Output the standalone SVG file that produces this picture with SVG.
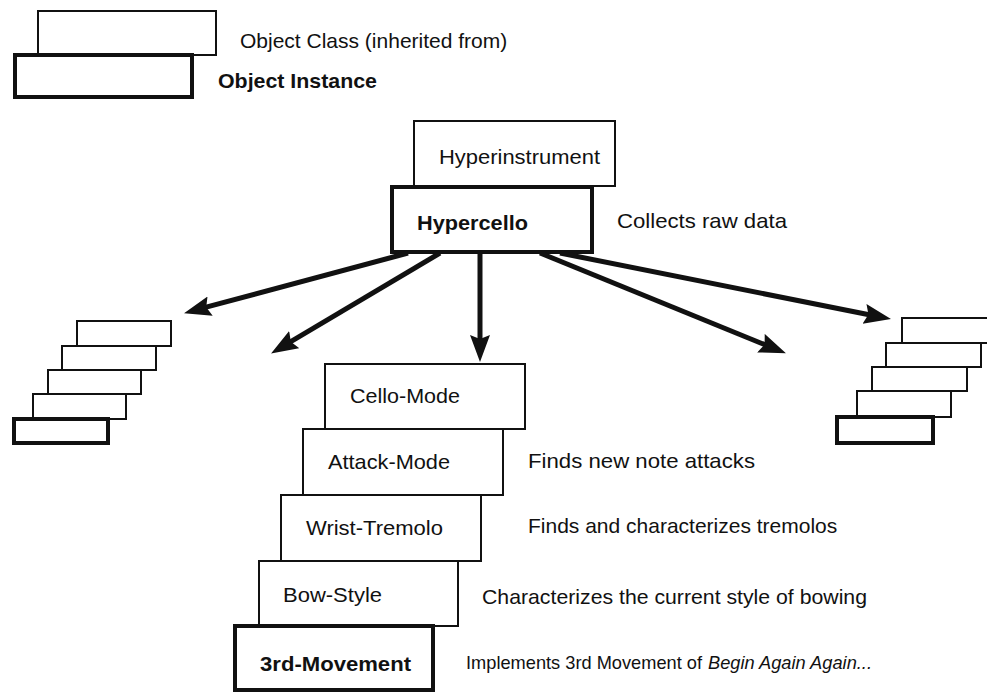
<svg xmlns="http://www.w3.org/2000/svg" width="987" height="692" viewBox="0 0 987 692">
<style>
  text { font-family: "Liberation Sans", Arial, Helvetica, sans-serif; font-size: 21px; fill: #111; }
  .b { font-weight: bold; }
  .s { font-size: 19px; }
  .i { font-style: italic; }
  .cls { fill: #fff; stroke: #111; stroke-width: 2; }
  .ins { fill: #fff; stroke: #111; stroke-width: 4; }
  .arr { stroke: #111; stroke-width: 5; fill: none; marker-end: url(#ah); }
</style>
<defs>
  <marker id="ah" markerUnits="userSpaceOnUse" markerWidth="30" markerHeight="22" refX="6" refY="10" orient="auto">
    <path d="M0,0 L27,10 L0,20 L4,10 z" fill="#111"/>
  </marker>
</defs>
<rect width="987" height="692" fill="#fff"/>

<g id="legend">
  <rect class="cls" x="38" y="11" width="178" height="44"/>
  <rect class="ins" x="15" y="55" width="177" height="42"/>
  <text x="240" y="48">Object Class (inherited from)</text>
  <text class="b" x="218" y="88" textLength="159" lengthAdjust="spacingAndGlyphs">Object Instance</text>
</g>

<g id="hyperinstrument">
  <rect class="cls" x="414" y="121" width="201" height="65"/>
  <text x="439" y="164" textLength="161" lengthAdjust="spacingAndGlyphs">Hyperinstrument</text>
</g>
<g id="hypercello">
  <rect class="ins" x="392" y="187" width="200" height="65"/>
  <text class="b" x="417" y="230" textLength="111" lengthAdjust="spacingAndGlyphs">Hypercello</text>
  <text x="617" y="228" textLength="170" lengthAdjust="spacingAndGlyphs">Collects raw data</text>
</g>

<g id="connectors">
  <line class="arr" x1="408" y1="253" x2="204.3" y2="307.7"/>
  <line class="arr" x1="440" y1="253" x2="289.1" y2="342.7"/>
  <line class="arr" x1="480" y1="253" x2="480" y2="341"/>
  <line class="arr" x1="540" y1="253" x2="766.5" y2="345.4"/>
  <line class="arr" x1="560" y1="253" x2="870.4" y2="315"/>
</g>

<g id="left-stack">
  <rect class="cls" x="77" y="321" width="94" height="25"/>
  <rect class="cls" x="62" y="346" width="94" height="24"/>
  <rect class="cls" x="48" y="370" width="93" height="24"/>
  <rect class="cls" x="33" y="394" width="93" height="25"/>
  <rect class="ins" x="14" y="419" width="94" height="24"/>
</g>

<g id="right-stack">
  <rect class="cls" x="902" y="318" width="95" height="25"/>
  <rect class="cls" x="886" y="343" width="95" height="24"/>
  <rect class="cls" x="872" y="367" width="95" height="24"/>
  <rect class="cls" x="857" y="391" width="94" height="26"/>
  <rect class="ins" x="837" y="417" width="96" height="26"/>
</g>

<g id="cello-mode">
  <rect class="cls" x="325" y="364" width="200" height="65"/>
  <text x="350" y="403" textLength="110" lengthAdjust="spacingAndGlyphs">Cello-Mode</text>
</g>
<g id="attack-mode">
  <rect class="cls" x="303" y="429" width="200" height="66"/>
  <text x="328" y="469" textLength="122" lengthAdjust="spacingAndGlyphs">Attack-Mode</text>
  <text x="528" y="468" textLength="227" lengthAdjust="spacingAndGlyphs">Finds new note attacks</text>
</g>
<g id="wrist-tremolo">
  <rect class="cls" x="281" y="495" width="200" height="66"/>
  <text x="306" y="535" textLength="137" lengthAdjust="spacingAndGlyphs">Wrist-Tremolo</text>
  <text x="528" y="533">Finds and characterizes tremolos</text>
</g>
<g id="bow-style">
  <rect class="cls" x="259" y="561" width="199" height="65"/>
  <text x="283" y="602" textLength="99" lengthAdjust="spacingAndGlyphs">Bow-Style</text>
  <text x="482" y="604" textLength="385" lengthAdjust="spacingAndGlyphs">Characterizes the current style of bowing</text>
</g>
<g id="third-movement">
  <rect class="ins" x="235" y="626" width="198" height="64"/>
  <text class="b" x="260" y="671" textLength="151" lengthAdjust="spacingAndGlyphs">3rd-Movement</text>
  <text class="s" x="466" y="669" textLength="236" lengthAdjust="spacingAndGlyphs">Implements 3rd Movement of</text>
  <text class="s i" x="708" y="669" textLength="164" lengthAdjust="spacingAndGlyphs">Begin Again Again...</text>
</g>
</svg>
